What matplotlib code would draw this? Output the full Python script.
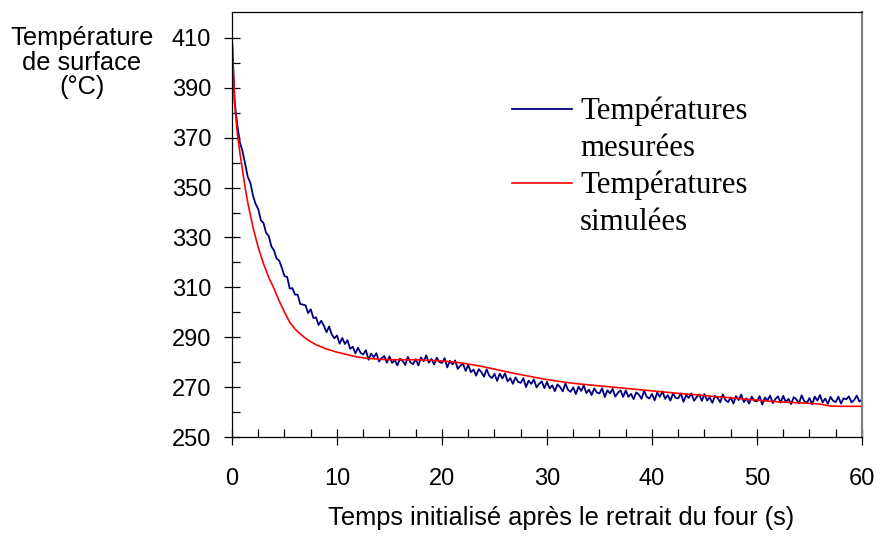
import matplotlib
matplotlib.use('Agg')
import matplotlib.pyplot as plt
import numpy as np
from matplotlib.lines import Line2D
from matplotlib.ticker import MultipleLocator, FixedLocator

# measured surface temperature, one sample every 0.25 s
blue_dt = 0.25
blue_T = [
    410.0, 384.5, 375.2, 368.2, 364.6, 359.6, 354.3, 351.9, 346.8, 343.4,
    341.4, 336.9, 335.8, 331.8, 330.6, 326.4, 324.8, 321.5, 320.7, 317.8,
    314.5, 314.2, 309.5, 309.7, 307.1, 307.1, 303.3, 303.1, 302.8, 299.7,
    301.2, 297.7, 298.0, 294.9, 296.6, 294.6, 292.0, 294.3, 291.1, 289.6,
    290.7, 287.4, 289.7, 287.3, 288.8, 285.3, 286.2, 283.5, 285.8, 283.7,
    283.1, 284.8, 281.0, 283.4, 282.0, 283.6, 280.3, 281.6, 282.5, 279.8,
    282.3, 279.7, 280.9, 278.7, 281.4, 280.5, 278.9, 282.1, 279.9, 279.2,
    281.2, 278.7, 281.9, 280.4, 282.7, 279.8, 281.3, 279.1, 281.8, 280.1,
    279.7, 281.6, 277.9, 280.5, 279.1, 280.7, 277.3, 278.6, 279.4, 276.5,
    278.9, 276.0, 277.0, 274.6, 277.2, 276.0, 274.2, 277.1, 274.6, 273.6,
    275.3, 272.5, 275.4, 273.5, 275.5, 272.3, 273.6, 271.3, 273.9, 272.1,
    271.7, 273.6, 270.0, 272.6, 271.3, 273.1, 269.9, 271.3, 272.3, 269.6,
    272.1, 269.5, 270.7, 268.4, 271.1, 270.0, 268.3, 271.4, 268.9, 268.1,
    269.9, 267.2, 270.2, 268.5, 270.6, 267.6, 269.0, 266.8, 269.5, 267.8,
    267.5, 269.5, 266.0, 268.7, 267.5, 269.3, 266.2, 267.7, 268.7, 266.1,
    268.7, 266.1, 267.3, 265.2, 267.9, 267.0, 265.3, 268.5, 266.1, 265.4,
    267.3, 264.7, 267.8, 266.1, 268.3, 265.3, 266.8, 264.6, 267.4, 265.7,
    265.5, 267.5, 264.1, 266.8, 265.7, 267.5, 264.5, 266.0, 267.1, 264.5,
    267.2, 264.6, 265.9, 263.7, 266.5, 265.6, 263.9, 267.1, 264.8, 264.0,
    265.9, 263.4, 266.4, 264.8, 267.0, 264.0, 265.5, 263.4, 266.2, 264.5,
    264.3, 266.4, 263.0, 265.8, 264.7, 266.6, 263.6, 265.2, 266.3, 263.8,
    266.5, 264.0, 265.3, 263.2, 266.0, 265.1, 263.5, 266.7, 264.4, 263.7,
    265.6, 263.1, 266.2, 264.6, 266.8, 263.9, 265.4, 263.3, 266.1, 264.5,
    264.0, 266.2, 263.4, 265.5, 265.1, 266.3, 263.9, 264.8, 266.6, 264.2,
    265.0,
]
blue_t = np.arange(len(blue_T)) * blue_dt

# simulated surface temperature
red_t = [0, 0.25, 0.5, 0.75, 1.0, 1.25, 1.5, 2.0, 2.5, 3.0, 3.5, 4.0, 4.5, 5.0,
         5.5, 6.0, 6.5, 7.0, 7.5, 8, 9, 10, 11, 12, 13, 14, 15, 16, 17, 18, 19,
         20, 21, 22, 23, 24, 25, 26, 27, 28, 29, 30, 31, 32, 33, 34, 35, 36, 37,
         38, 39, 40, 41, 42, 43, 44, 45, 46, 47, 48, 49, 50, 51, 52, 53, 54, 55,
         56, 57, 58, 59, 60]
red_T = [410, 384, 372, 364, 357, 350, 344, 334, 326, 319.5, 314, 309.5, 304.5, 300,
         296, 293.3, 291.3, 289.6, 288.2, 287, 285.3, 284, 283, 282, 281.5, 281.2,
         281, 281, 281, 280.9, 280.7, 280.5, 280.1, 279.6, 278.9, 278.1, 277.2,
         276.3, 275.4, 274.6, 273.8, 273, 272.4, 271.8, 271.3, 270.9, 270.5, 270.1,
         269.7, 269.3, 268.9, 268.5, 268.1, 267.7, 267.3, 267.0, 266.6, 266.2,
         265.9, 265.5, 265.1, 264.8, 264.4, 264.1, 263.9, 263.7, 263.5, 263.2,
         262.4, 262.3, 262.3, 262.3]

x_major = [0, 10, 20, 30, 40, 50, 60]
y_major = [250, 270, 290, 310, 330, 350, 370, 390, 410]
y_minor = [260, 280, 300, 320, 340, 360, 380, 400]

sans = 'Liberation Sans'
serif = 'Liberation Serif'

fig = plt.figure(figsize=(8.78, 5.42), dpi=100)
ax = fig.add_axes([232 / 878, 105 / 542, 630 / 878, 425 / 542])

ax.plot(blue_t, blue_T, color='#000080', lw=1.3)
ax.plot(red_t, red_T, color='#ff0000', lw=1.2)

ax.set_xlim(0, 60)
ax.set_ylim(250, 420.4)
ax.set_xticks(x_major)
ax.xaxis.set_minor_locator(MultipleLocator(2.5))
ax.set_yticks(y_major)
ax.yaxis.set_minor_locator(FixedLocator(y_minor))

ax.tick_params(which='major', direction='inout', length=11, width=0.9, color='black')
ax.tick_params(which='minor', direction='in', length=5.5, width=0.9, color='black')
ax.tick_params(axis='y', which='major', pad=9.5)
ax.tick_params(axis='x', which='major', pad=17)
for lbl in ax.get_xticklabels() + ax.get_yticklabels():
    lbl.set_fontfamily(sans)
    lbl.set_fontsize(17)

for side in ['left', 'bottom', 'top']:
    ax.spines[side].set_color('black')
    ax.spines[side].set_linewidth(0.9)
ax.spines['right'].set_color('#808080')
ax.spines['right'].set_linewidth(1.6)

fig.text(82 / 878, 1 - 62.5 / 542, "Température\nde surface\n(°C)", ha='center', va='center',
         fontsize=18.3, family=sans, linespacing=1.05)
fig.text(561 / 878, 1 - 518 / 542, "Temps initialisé après le retrait du four (s)",
         ha='center', va='center', fontsize=18.3, family=sans)

handles = [Line2D([], [], color='#000080', lw=1.3),
           Line2D([], [], color='none'),
           Line2D([], [], color='#ff0000', lw=1.2),
           Line2D([], [], color='none')]
labels = ["Températures", "mesurées", "Températures", "simulées"]
ax.legend(handles, labels, loc='upper left', bbox_to_anchor=(512 / 878, 1 - 97 / 542),
          bbox_transform=fig.transFigure, frameon=False, borderpad=0, borderaxespad=0,
          handlelength=1.95, handletextpad=0.26, labelspacing=0.25,
          prop={'family': serif, 'size': 22.2})

plt.savefig('out.png', dpi=100)
plt.close()
